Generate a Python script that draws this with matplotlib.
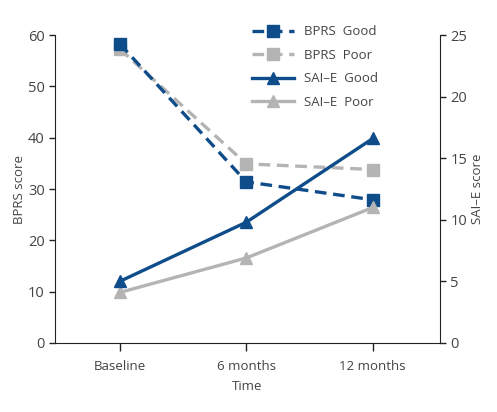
import matplotlib
matplotlib.use("Agg")
import matplotlib.pyplot as plt

# Data
timepoints = ["Baseline", "6 months", "12 months"]
bprs_good = [58.3, 31.4, 27.9]
bprs_poor = [57.3, 34.9, 33.8]
saie_good = [5.0, 9.8, 16.6]
saie_poor = [4.1, 6.9, 11.0]

blue = "#0f4d8a"
grey = "#b4b4b4"
text_col = "#444444"

plt.rcParams["font.family"] = ["Open Sans", "DejaVu Sans"]
plt.rcParams["font.size"] = 9.5

fig = plt.figure(figsize=(4.97, 4.12), dpi=100)
ax = fig.add_axes([0.111, 0.1675, 0.774, 0.7475])
ax2 = ax.twinx()

x = range(len(timepoints))

l1, = ax.plot(x, bprs_good, color=blue, lw=2.4, ls=(0, (3.5, 2)), marker="s", ms=9,
              label="BPRS  Good", zorder=4)
l2, = ax.plot(x, bprs_poor, color=grey, lw=2.4, ls=(0, (3.5, 2)), marker="s", ms=9,
              label="BPRS  Poor", zorder=3)
l3, = ax2.plot(x, saie_good, color=blue, lw=2.4, marker="^", ms=9,
               label="SAI\u2013E  Good", zorder=4)
l4, = ax2.plot(x, saie_poor, color=grey, lw=2.4, marker="^", ms=9,
               label="SAI\u2013E  Poor", zorder=3)

ax.set_xlim(-0.51, 2.53)
ax.set_ylim(0, 60)
ax2.set_ylim(0, 25)
ax.set_yticks(range(0, 61, 10))
ax2.set_yticks(range(0, 26, 5))
ax.set_xticks(list(x))
ax.set_xticklabels(timepoints)

for a in (ax, ax2):
    a.spines["top"].set_visible(False)
    a.tick_params(colors="#222222", labelcolor=text_col, direction="out", length=4, width=1)
    a.tick_params(axis="y", labelsize=10.5)
    for s in a.spines.values():
        s.set_color("#222222")
ax.spines["right"].set_visible(False)
ax2.spines["left"].set_visible(False)
ax2.spines["bottom"].set_visible(False)
ax.tick_params(axis="x", length=6, pad=6)

ax.set_xlabel("Time", color=text_col, labelpad=5)
ax.set_ylabel("BPRS score", color=text_col, labelpad=1)
ax2.set_ylabel("SAI\u2013E score", color=text_col, labelpad=3)

leg = ax.legend(handles=[l1, l2, l3, l4], loc="upper left", bbox_to_anchor=(0.48, 1.07),
                frameon=False, handlelength=3.2, labelspacing=0.8, handletextpad=0.8,
                labelcolor=text_col)

fig.savefig("out.png", dpi=100)
